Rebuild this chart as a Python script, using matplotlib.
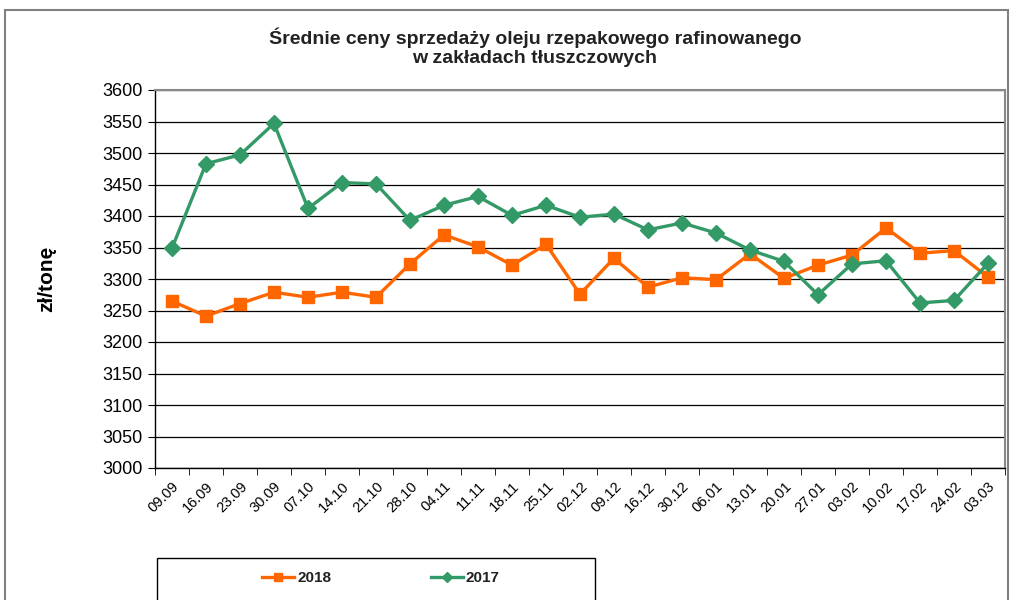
import matplotlib
matplotlib.use("Agg")
import matplotlib.pyplot as plt
from matplotlib.patches import Rectangle

plt.rcParams['font.family'] = ['Liberation Sans', 'DejaVu Sans']

dates = ["09.09", "16.09", "23.09", "30.09", "07.10", "14.10", "21.10", "28.10",
         "04.11", "11.11", "18.11", "25.11", "02.12", "09.12", "16.12", "30.12",
         "06.01", "13.01", "20.01", "27.01", "03.02", "10.02", "17.02", "24.02", "03.03"]
y2018 = [3265, 3241, 3261, 3279, 3271, 3279, 3271, 3324, 3370, 3351, 3322, 3355,
         3276, 3333, 3287, 3302, 3299, 3340, 3301, 3322, 3338, 3381, 3341, 3345, 3303]
y2017 = [3349, 3483, 3497, 3547, 3412, 3453, 3451, 3393, 3417, 3431, 3401, 3417,
         3398, 3403, 3378, 3389, 3373, 3346, 3328, 3275, 3324, 3329, 3262, 3266, 3325]
yticks = list(range(3000, 3601, 50))

fig = plt.figure(figsize=(10.14, 6.0), dpi=100)
ax = fig.add_axes([155/1014, 132/600, 850/1014, 378/600])

x = list(range(len(dates)))
ax.plot(x, y2018, color="#FF6600", lw=2.4, marker="s", markersize=9,
        markeredgecolor="#FF6600", label="2018", zorder=3)
ax.plot(x, y2017, color="#339966", lw=2.4, marker="D", markersize=8.5,
        markeredgecolor="#339966", label="2017", zorder=3)

ax.set_xlim(-0.5, len(dates) - 0.5)
ax.set_ylim(3000, 3600)
ax.set_yticks(yticks)
ax.set_yticklabels([str(v) for v in yticks], fontsize=13)
ax.set_xticks(x)
ax.set_xticklabels(dates, rotation=45, ha="right", rotation_mode="anchor", fontsize=10.5)
ax.set_xticks([i - 0.5 for i in range(len(dates) + 1)], minor=True)
ax.tick_params(axis="x", which="major", length=0, pad=8)
ax.tick_params(axis="x", which="minor", length=5, direction="out")
ax.tick_params(axis="y", length=5, direction="out", pad=4)
ax.grid(axis="y", color="black", lw=0.9)
ax.set_axisbelow(True)
for s in ["left", "bottom"]:
    ax.spines[s].set_color("black")
    ax.spines[s].set_linewidth(1.0)
for s in ["top", "right"]:
    ax.spines[s].set_color("#888888")
    ax.spines[s].set_linewidth(1.5)

ax.set_ylabel("zł/tonę", fontsize=15, fontweight="bold", labelpad=33)

fig.text(535/1014, 1 - 47/600, "Średnie ceny sprzedaży oleju rzepakowego rafinowanego\nw zakładach tłuszczowych",
         ha="center", va="center", fontsize=14, fontweight="bold", color="#222222", linespacing=1.15)

# outer chart border
fig.patches.append(Rectangle((5/1014, -0.05), 1003/1014, 1.05 - 10/600,
                             transform=fig.transFigure, fill=False,
                             edgecolor="#808080", lw=1.5))
# legend box
fig.patches.append(Rectangle((157/1014, -0.05), 438/1014, 0.05 + 42/600,
                             transform=fig.transFigure, fill=False,
                             edgecolor="black", lw=1.0))

leg = fig.legend(loc="center", bbox_to_anchor=(381/1014, 22/600),
                 ncol=2, frameon=False, fontsize=11, handlelength=2.1,
                 handletextpad=0.2, columnspacing=6.5, markerscale=0.6,
                 borderaxespad=0.0, borderpad=0.0)
for t in leg.get_texts():
    t.set_fontweight("bold")
    t.set_color("#222222")

fig.savefig("out.png", dpi=100)
